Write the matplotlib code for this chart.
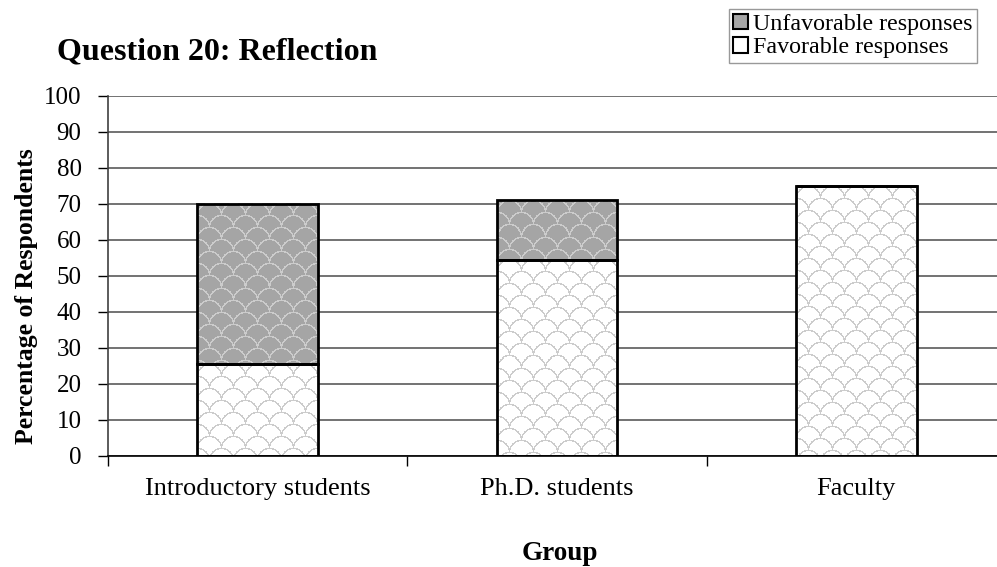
import numpy as np
import matplotlib.pyplot as plt
from matplotlib.patches import Patch

groups = ["Introductory students", "Ph.D. students", "Faculty"]
favorable = [25.5, 54.5, 75]
unfavorable = [44.5, 16.5, 0]
yticks = list(range(0, 101, 10))

plt.rcParams['font.family'] = ['Liberation Serif', 'DejaVu Serif']


def scale_texture(h, w, bg, fg, p=24, q=12):
    """
    Builds a fish-scale texture (h x w pixels) like the Excel shingle fill.
    """
    yy, xx = np.mgrid[0:h, 0:w].astype(float)
    r = p / 2
    mask = np.zeros((h, w), bool)
    base = np.floor(yy / q)
    for dj in (0, 1):
        j = base + dj
        cy = j * q
        phase = (j % 2) * p / 2
        cx = np.round((xx - phase) / p) * p + phase
        d = np.hypot(xx - cx, yy - cy)
        mask |= (np.abs(d - r) < 0.75) & (yy <= cy)
    tex = np.empty((h, w, 3))
    tex[:] = bg
    tex[mask] = fg
    return tex


fig = plt.figure(figsize=(9.97, 5.67), dpi=100)
ax = fig.add_axes([108 / 997, 111 / 567, 898 / 997, 360 / 567])
ax.set_xlim(-0.5, 2.5)
ax.set_ylim(0, 100)

x = np.arange(len(groups))
width = 0.403
fav_bars = ax.bar(x, favorable, width, facecolor='none',
                  edgecolor='black', linewidth=2, zorder=3)
unf_bars = ax.bar(x, unfavorable, width, bottom=favorable, facecolor='none',
                  edgecolor='black', linewidth=2, zorder=3)

white = (1, 1, 1)
dark = (0.65, 0.65, 0.65)
light = (0.80, 0.80, 0.80)

# fill each bar with the textured pattern, clipped to the bar
for bars, bg in ((fav_bars, white), (unf_bars, dark)):
    for b in bars:
        x0, y0 = b.get_x(), b.get_y()
        x1, y1 = x0 + b.get_width(), y0 + b.get_height()
        (px0, py0), (px1, py1) = ax.transData.transform([(x0, y0), (x1, y1)])
        w = int(round(px1 - px0))
        h = int(round(py1 - py0))
        if h < 1:
            continue
        tex = scale_texture(h, w, bg, light)
        ax.imshow(tex, extent=(x0, x1, y0, y1), aspect='auto',
                  interpolation='nearest', clip_path=b, zorder=2)

ax.set_xlim(-0.5, 2.5)
ax.set_ylim(0, 100)
ax.set_aspect('auto')

ax.set_yticks(yticks)
ax.tick_params(axis='y', labelsize=18, length=7, width=1, pad=12,
               direction='out')
ax.set_xticks(x)
ax.set_xticklabels(groups)
ax.set_xticks([-0.5, 0.5, 1.5, 2.5], minor=True)
ax.tick_params(axis='x', which='major', length=0, labelsize=19, pad=16)
ax.tick_params(axis='x', which='minor', length=7, width=1, direction='out')

ax.yaxis.grid(True, color='#5a5a5a', linewidth=1.2)
ax.set_axisbelow(True)
for s in ('top', 'right'):
    ax.spines[s].set_visible(False)
ax.spines['left'].set_color('#404040')
ax.spines['bottom'].set_color('black')
ax.spines['left'].set_linewidth(1.2)
ax.spines['bottom'].set_linewidth(1.2)

fig.text(57 / 997, 1 - 52 / 567, "Question 20: Reflection", fontsize=23,
         fontweight='bold', ha='left', va='center')
fig.text(27 / 997, 1 - 296 / 567, "Percentage of Respondents", fontsize=18.5,
         fontweight='bold', rotation=90, ha='center', va='center')
fig.text(560 / 997, 1 - 553 / 567, "Group", fontsize=19.5,
         fontweight='bold', ha='center', va='center')

handles = [Patch(facecolor='#a6a6a6', edgecolor='black', linewidth=1.5),
           Patch(facecolor='white', edgecolor='black', linewidth=1.5)]
leg = fig.legend(handles, ["Unfavorable responses", "Favorable responses"],
                 loc='upper right', bbox_to_anchor=(977 / 997, 1 - 9 / 567),
                 fontsize=17.3, frameon=True, fancybox=False,
                 handlelength=0.6, handleheight=0.6, handletextpad=0.2,
                 borderpad=0.2, labelspacing=0.1, borderaxespad=0)
leg.get_frame().set_edgecolor('#808080')
leg.get_frame().set_linewidth(1)

fig.savefig("out.png", dpi=100)
